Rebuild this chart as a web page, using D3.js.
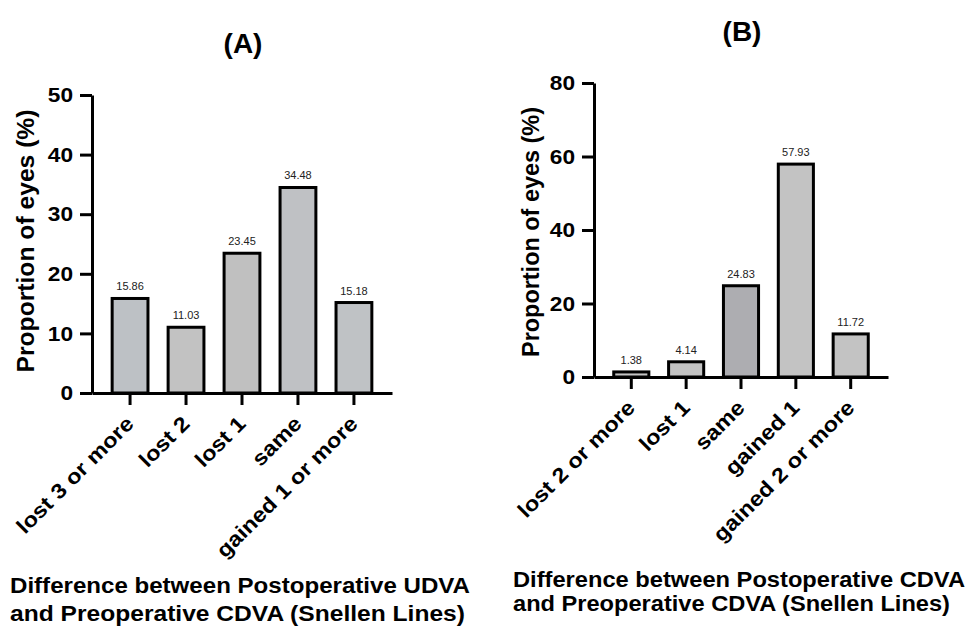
<!DOCTYPE html>
<html>
<head>
<meta charset="utf-8">
<script src="https://cdn.jsdelivr.net/npm/d3@7"></script>
<style>
  body { margin: 0; background: #fff; }
  text { font-family: "Liberation Sans", Arial, sans-serif; }
</style>
</head>
<body>
<div id="chart"></div>
<script>
// panel A data
const categoriesA = ['lost 3 or more', 'lost 2', 'lost 1', 'same', 'gained 1 or more'];
const valuesA = [15.86, 11.03, 23.45, 34.48, 15.18];
const ticksA = [0, 10, 20, 30, 40, 50];
const xTitleA = ['Difference between Postoperative UDVA', 'and Preoperative CDVA (Snellen Lines)'];

// panel B data
const categoriesB = ['lost 2 or more', 'lost 1', 'same', 'gained 1', 'gained 2 or more'];
const valuesB = [1.38, 4.14, 24.83, 57.93, 11.72];
const ticksB = [0, 20, 40, 60, 80];
const xTitleB = ['Difference between Postoperative CDVA', 'and Preoperative CDVA (Snellen Lines)'];

const fillsA = ['#bdc1c5', '#c2c2c2', '#c0c0c0', '#bfc1c4', '#bfc2c5'];
const fillsB = ['#c3c3c3', '#c3c3c3', '#adadb1', '#c3c3c3', '#c3c3c3'];

const svg = d3.select('#chart').append('svg')
  .attr('width', 968)
  .attr('height', 627);

// the bold text in the figure is a bit wider than Arial, so stretch it
const stretch = (sel, k) => {
  sel.each(function() {
    const len = this.getComputedTextLength();
    d3.select(this)
      .attr('textLength', len * k)
      .attr('lengthAdjust', 'spacingAndGlyphs');
  });
};

const drawPanel = (opt) => {
  const g = svg.append('g');

  const y = d3.scaleLinear().domain([0, opt.max]).range([opt.bottom, opt.top]);
  const x = d3.scaleBand()
    .domain(opt.categories)
    .range([opt.left, opt.right])
    .paddingInner(0.36)
    .paddingOuter(0.36);

  // bars
  g.selectAll('rect.bar')
    .data(opt.values)
    .enter()
    .append('rect')
    .attr('class', 'bar')
    .attr('x', (d, i) => x(opt.categories[i]))
    .attr('y', d => y(d))
    .attr('width', x.bandwidth())
    .attr('height', d => opt.bottom - y(d))
    .attr('fill', (d, i) => opt.fills[i])
    .attr('stroke', '#000')
    .attr('stroke-width', 3);

  // value labels
  g.selectAll('text.val')
    .data(opt.values)
    .enter()
    .append('text')
    .attr('class', 'val')
    .attr('x', (d, i) => x(opt.categories[i]) + x.bandwidth() / 2)
    .attr('y', d => y(d) - 8)
    .attr('text-anchor', 'middle')
    .attr('font-size', '11px')
    .attr('fill', '#222')
    .text(d => d.toFixed(2));

  // y axis
  const yAxis = g.append('g')
    .attr('transform', `translate(${opt.left},0)`)
    .call(d3.axisLeft(y).tickValues(opt.ticks).tickSize(12).tickSizeOuter(0).tickPadding(7));
  yAxis.select('.domain').attr('stroke-width', 3);
  yAxis.selectAll('.tick line').attr('stroke-width', 3);
  yAxis.selectAll('.tick text')
    .attr('font-size', '21px')
    .attr('font-weight', 'bold')
    .attr('font-family', '"Liberation Sans", Arial, sans-serif')
    .attr('fill', '#000')
    .call(stretch, 1.08);

  // x axis
  const xAxis = g.append('g')
    .attr('transform', `translate(0,${opt.bottom})`)
    .call(d3.axisBottom(x).tickSize(12).tickSizeOuter(0));
  xAxis.select('.domain').attr('stroke-width', 3);
  xAxis.selectAll('.tick line').attr('stroke-width', 3);
  xAxis.selectAll('.tick text')
    .attr('font-size', '21px')
    .attr('font-weight', 'bold')
    .attr('font-family', '"Liberation Sans", Arial, sans-serif')
    .attr('fill', '#000')
    .attr('text-anchor', 'end')
    .attr('dy', null)
    .attr('y', 0)
    .attr('transform', 'translate(5,32) rotate(-45)')
    .call(stretch, 1.12);

  // y title
  g.append('text')
    .attr('transform', `translate(${opt.yTitleX},${opt.yTitleY}) rotate(-90)`)
    .attr('text-anchor', 'middle')
    .attr('font-size', '23px')
    .attr('font-weight', 'bold')
    .attr('textLength', opt.yTitleLen)
    .attr('lengthAdjust', 'spacingAndGlyphs')
    .text('Proportion of eyes (%)');

  // panel label
  g.append('text')
    .attr('x', opt.labelX)
    .attr('y', opt.labelY)
    .attr('text-anchor', 'middle')
    .attr('font-size', '28px')
    .attr('font-weight', 'bold')
    .text(opt.label);

  // x title
  g.selectAll('text.xtitle')
    .data(opt.xTitle)
    .enter()
    .append('text')
    .attr('class', 'xtitle')
    .attr('x', opt.xTitleX)
    .attr('y', (d, i) => opt.xTitleY + i * opt.xTitleGap)
    .attr('font-size', '22px')
    .attr('font-weight', 'bold')
    .attr('textLength', (d, i) => opt.xTitleLen[i])
    .attr('lengthAdjust', 'spacingAndGlyphs')
    .text(d => d);
};

drawPanel({
  categories: categoriesA, values: valuesA, ticks: ticksA, fills: fillsA, max: 50,
  left: 92, right: 392, top: 95, bottom: 393,
  yTitleX: 34, yTitleY: 241, yTitleLen: 263,
  label: '(A)', labelX: 243, labelY: 53,
  xTitle: xTitleA, xTitleX: 10, xTitleY: 593, xTitleGap: 28, xTitleLen: [460, 455]
});

drawPanel({
  categories: categoriesB, values: valuesB, ticks: ticksB, fills: fillsB, max: 80,
  left: 594, right: 888, top: 83, bottom: 377,
  yTitleX: 539, yTitleY: 232, yTitleLen: 250,
  label: '(B)', labelX: 742, labelY: 41,
  xTitle: xTitleB, xTitleX: 513, xTitleY: 587, xTitleGap: 24, xTitleLen: [452, 437]
});
</script>
</body>
</html>
